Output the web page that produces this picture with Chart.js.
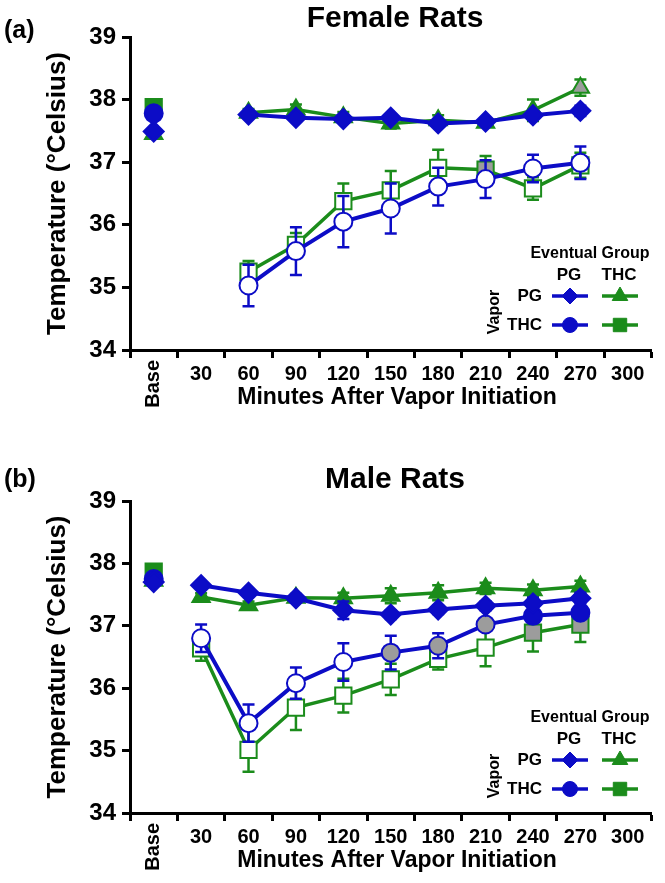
<!DOCTYPE html>
<html>
<head>
<meta charset="utf-8">
<script src="https://cdn.jsdelivr.net/npm/chart.js@4/dist/chart.umd.min.js"></script>
<style>
html,body{margin:0;padding:0;background:#fff;width:665px;height:883px;overflow:hidden}
.panel{position:absolute;left:0;width:665px}
#p1{top:0;height:441px}
#p2{top:441px;height:442px}
canvas{display:block}
</style>
</head>
<body>
<div class="panel" id="p1"><canvas id="c1" width="665" height="441"></canvas></div>
<div class="panel" id="p2"><canvas id="c2" width="665" height="442"></canvas></div>
<script>
// ---------- DATA ----------
const categories = ['Base','30','60','90','120','150','180','210','240','270','300'];
const yTickValues = [34,35,36,37,38,39];

// Female rats (index: Base,30,60,...,300)
const femPgPgMean   = [37.49,null,37.76,37.71,37.69,37.71,37.62,37.65,37.75,37.82,null];
const femPgPgSem    = [0.05,null,0.05,0.05,0.05,0.05,0.05,0.05,0.06,0.08,null];
const femPgPgMark   = ['F',null,'F','F','F','F','F','F','F','F',null];
const femPgThcMean  = [37.45,null,37.79,37.84,37.72,37.62,37.67,37.63,37.83,38.19,null];
const femPgThcSem   = [0.05,null,0.06,0.08,0.08,0.08,0.08,0.06,0.17,0.13,null];
const femPgThcMark  = ['F',null,'F','F','F','F','F','F','F','G',null];
const femThcPgMean  = [37.78,null,35.03,35.58,36.05,36.26,36.61,36.73,36.90,36.99,null];
const femThcPgSem   = [0.06,null,0.33,0.38,0.41,0.40,0.30,0.30,0.22,0.26,null];
const femThcPgMark  = ['F',null,'O','O','O','O','O','O','O','O',null];
const femThcThcMean = [37.88,null,35.25,35.68,36.38,36.55,36.91,36.88,36.58,36.95,null];
const femThcThcSem  = [0.06,null,0.17,0.19,0.28,0.31,0.29,0.22,0.18,0.20,null];
const femThcThcMark = ['F',null,'O','O','O','O','O','G','O','O',null];

// Male rats
const malPgPgMean   = [37.70,37.65,37.53,37.44,37.25,37.18,37.26,37.32,37.36,37.44,null];
const malPgPgSem    = [0.04,0.05,0.05,0.05,0.14,0.07,0.07,0.07,0.09,0.09,null];
const malPgPgMark   = ['F','F','F','F','F','F','F','F','F','F',null];
const malPgThcMean  = [37.72,37.46,37.33,37.45,37.44,37.48,37.53,37.60,37.57,37.63,null];
const malPgThcSem   = [0.05,0.06,0.06,0.06,0.09,0.12,0.12,0.09,0.09,0.09,null];
const malPgThcMark  = ['F','F','F','F','F','F','F','F','F','F',null];
const malThcPgMean  = [37.75,36.80,35.44,36.08,36.42,36.57,36.68,37.02,37.16,37.21,null];
const malThcPgSem   = [0.05,0.22,0.30,0.25,0.30,0.27,0.20,0.10,0.10,0.08,null];
const malThcPgMark  = ['F','O','O','O','O','G','G','G','F','F',null];
const malThcThcMean = [37.87,36.64,35.01,35.69,35.88,36.14,36.47,36.65,36.89,37.02,null];
const malThcThcSem  = [0.05,0.20,0.35,0.36,0.27,0.25,0.17,0.30,0.30,0.28,null];
const malThcThcMark = ['F','O','O','O','O','O','O','O','G','G',null];

// ---------- STYLE ----------
const FONT = "'Liberation Sans', Arial, sans-serif";
const BLUE = '#0c0cc6';
const GREEN = '#1b8c1b';
const GRAY = '#9c9c9c';

const STYLES = {
  pgpg:   {color: BLUE,  style: 'rectRot',  radius: 10,  lineWidth: 4},
  thcpg:  {color: BLUE,  style: 'circle',   radius: 9,   lineWidth: 4},
  pgthc:  {color: GREEN, style: 'triangle', radius: 10,  lineWidth: 3.5},
  thcthc: {color: GREEN, style: 'rect',     radius: 11.5,lineWidth: 3.5}
};

function fillFor(mark, color) {
  if (mark === 'F') return color;
  if (mark === 'G') return GRAY;
  return '#ffffff';
}

const errorBarPlugin = {
  id: 'errorBars',
  beforeDatasetDraw(chart, args) {
    const ds = chart.data.datasets[args.index];
    if (!ds.errors) return;
    const ys = chart.scales.y;
    const ctx = chart.ctx;
    ctx.save();
    ctx.strokeStyle = ds.borderColor;
    ctx.lineWidth = 2.5;
    args.meta.data.forEach((pt, i) => {
      const v = ds.data[i], e = ds.errors[i];
      if (v == null || e == null) return;
      const x = pt.x;
      const yt = ys.getPixelForValue(v + e);
      const yb = ys.getPixelForValue(v - e);
      ctx.beginPath();
      ctx.moveTo(x, yt); ctx.lineTo(x, yb);
      ctx.moveTo(x - 6, yt); ctx.lineTo(x + 6, yt);
      ctx.moveTo(x - 6, yb); ctx.lineTo(x + 6, yb);
      ctx.stroke();
    });
    ctx.restore();
  }
};

const textPlugin = {
  id: 'panelText',
  afterDraw(chart, args, opts) {
    const ctx = chart.ctx;
    const ca = chart.chartArea;
    const xs = chart.scales.x;
    const T = ca.top;
    ctx.save();
    ctx.fillStyle = '#000';
    // panel label
    ctx.font = 'bold 25px ' + FONT;
    ctx.textAlign = 'left'; ctx.textBaseline = 'middle';
    ctx.fillText(opts.label, 4, opts.labelY);
    // title
    ctx.font = 'bold 30px ' + FONT;
    ctx.textAlign = 'center'; ctx.textBaseline = 'alphabetic';
    ctx.fillText(opts.title, 395, opts.titleBaseline);
    // y title
    ctx.save();
    ctx.translate(58, (ca.top + ca.bottom) / 2);
    ctx.rotate(-Math.PI / 2);
    ctx.font = 'bold 26px ' + FONT;
    ctx.textAlign = 'center'; ctx.textBaseline = 'middle';
    ctx.fillText('Temperature (°Celsius)', 0, 0);
    ctx.restore();
    // x title
    ctx.font = 'bold 23px ' + FONT;
    ctx.textAlign = 'center'; ctx.textBaseline = 'middle';
    ctx.fillText('Minutes After Vapor Initiation', 397, ca.bottom + 48);
    // rotated first category label
    ctx.save();
    ctx.translate(xs.getPixelForValue(0), ca.bottom + 10);
    ctx.rotate(-Math.PI / 2);
    ctx.font = 'bold 20px ' + FONT;
    ctx.textAlign = 'right'; ctx.textBaseline = 'middle';
    ctx.fillText(categories[0], 0, 0);
    ctx.restore();

    // legend
    ctx.font = 'bold 16px ' + FONT;
    ctx.textAlign = 'center'; ctx.textBaseline = 'middle';
    ctx.fillText('Eventual Group', 590, T + 217);
    ctx.font = 'bold 17px ' + FONT;
    ctx.fillText('PG', 569, T + 238);
    ctx.fillText('THC', 619, T + 238);
    ctx.textAlign = 'right';
    ctx.fillText('PG', 542, T + 259);
    ctx.fillText('THC', 542, T + 288);
    ctx.save();
    ctx.translate(495, T + 275);
    ctx.rotate(-Math.PI / 2);
    ctx.font = 'bold 16px ' + FONT;
    ctx.textAlign = 'center';
    ctx.fillText('Vapor', 0, 0);
    ctx.restore();
    const items = [
      {s: STYLES.pgpg,   x0: 552, x1: 588, y: T + 259, r: 8},
      {s: STYLES.pgthc,  x0: 602, x1: 638, y: T + 259, r: 9},
      {s: STYLES.thcpg,  x0: 552, x1: 588, y: T + 288, r: 7.5},
      {s: STYLES.thcthc, x0: 602, x1: 638, y: T + 288, r: 9.5}
    ];
    items.forEach(it => {
      ctx.strokeStyle = it.s.color;
      ctx.lineWidth = 3.5;
      ctx.beginPath(); ctx.moveTo(it.x0, it.y); ctx.lineTo(it.x1, it.y); ctx.stroke();
      ctx.fillStyle = it.s.color;
      ctx.lineWidth = 1;
      Chart.helpers.drawPoint(ctx, {pointStyle: it.s.style, radius: it.r, rotation: 0, borderWidth: 1}, (it.x0 + it.x1) / 2, it.y);
    });
    ctx.restore();
  }
};

function makeChart(id, series, panel) {
  const datasets = series.map(s => ({
    label: s.name,
    data: s.mean,
    errors: s.sem,
    borderColor: s.st.color,
    borderWidth: s.st.lineWidth,
    pointStyle: s.st.style,
    pointRadius: s.st.radius,
    pointHoverRadius: s.st.radius,
    pointBorderWidth: 2,
    pointBorderColor: s.st.color,
    pointBackgroundColor: s.mark.map(m => fillFor(m, s.st.color)),
    tension: 0,
    spanGaps: false,
    clip: false,
    segment: {borderColor: ctx => ctx.p0DataIndex === 0 ? 'rgba(0,0,0,0)' : undefined}
  }));
  return new Chart(document.getElementById(id), {
    type: 'line',
    data: {labels: categories, datasets},
    plugins: [errorBarPlugin, textPlugin],
    options: {
      responsive: false,
      animation: false,
      events: [],
      layout: {padding: {left: 0, right: 2, top: panel.top, bottom: 0}},
      plugins: {
        legend: {display: false},
        tooltip: {enabled: false},
        title: {display: false},
        panelText: panel.text
      },
      scales: {
        x: {
          type: 'category',
          offset: true,
          grid: {offset: true, drawOnChartArea: false, drawTicks: true, tickLength: 8, tickWidth: 3, tickColor: '#000'},
          border: {display: true, color: '#000', width: 3},
          ticks: {
            autoSkip: false, maxRotation: 0, minRotation: 0, padding: 4, color: '#000',
            font: {family: FONT, size: 20, weight: 'bold'},
            callback: (v, i) => i === 0 ? '' : categories[i]
          },
          afterFit: s => { s.height = panel.xAxisHeight; }
        },
        y: {
          min: 34, max: 39,
          afterBuildTicks: s => { s.ticks = yTickValues.map(v => ({value: v})); },
          grid: {drawOnChartArea: false, drawTicks: true, tickLength: 8, tickWidth: 3, tickColor: '#000'},
          border: {display: true, color: '#000', width: 3},
          ticks: {padding: 6, color: '#000', font: {family: FONT, size: 24, weight: 'bold'}},
          afterFit: s => { s.width = 130; }
        }
      }
    }
  });
}

makeChart('c1', [
  {name: 'PG vapor / PG group',   mean: femPgPgMean,   sem: femPgPgSem,   mark: femPgPgMark,   st: STYLES.pgpg},
  {name: 'THC vapor / PG group',  mean: femThcPgMean,  sem: femThcPgSem,  mark: femThcPgMark,  st: STYLES.thcpg},
  {name: 'PG vapor / THC group',  mean: femPgThcMean,  sem: femPgThcSem,  mark: femPgThcMark,  st: STYLES.pgthc},
  {name: 'THC vapor / THC group', mean: femThcThcMean, sem: femThcThcSem, mark: femThcThcMark, st: STYLES.thcthc}
], {top: 37, xAxisHeight: 91, text: {label: '(a)', labelY: 31, title: 'Female Rats', titleBaseline: 27}});

makeChart('c2', [
  {name: 'PG vapor / PG group',   mean: malPgPgMean,   sem: malPgPgSem,   mark: malPgPgMark,   st: STYLES.pgpg},
  {name: 'THC vapor / PG group',  mean: malThcPgMean,  sem: malThcPgSem,  mark: malThcPgMark,  st: STYLES.thcpg},
  {name: 'PG vapor / THC group',  mean: malPgThcMean,  sem: malPgThcSem,  mark: malPgThcMark,  st: STYLES.pgthc},
  {name: 'THC vapor / THC group', mean: malThcThcMean, sem: malThcThcSem, mark: malThcThcMark, st: STYLES.thcthc}
], {top: 60, xAxisHeight: 70, text: {label: '(b)', labelY: 39, title: 'Male Rats', titleBaseline: 47}});
</script>
</body>
</html>
